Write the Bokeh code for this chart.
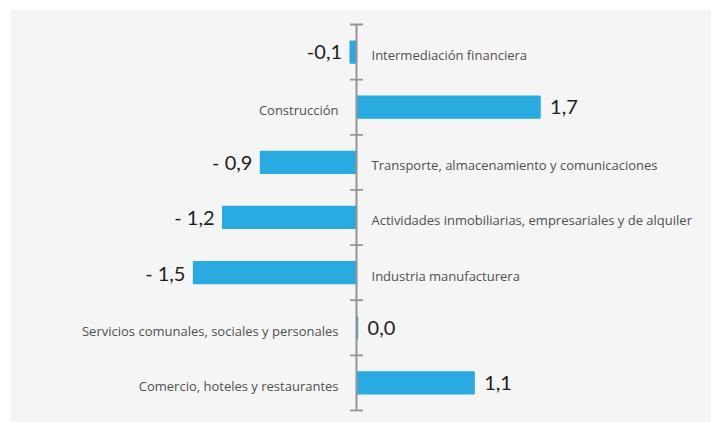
from bokeh.plotting import figure
from bokeh.models import ColumnDataSource, Range1d
from bokeh.core.properties import value
from bokeh.embed import file_html
from bokeh.resources import INLINE

categories = [
    "Intermediación financiera",
    "Construcción",
    "Transporte, almacenamiento y comunicaciones",
    "Actividades inmobiliarias, empresariales y de alquiler",
    "Industria manufacturera",
    "Servicios comunales, sociales y personales",
    "Comercio, hoteles y restaurantes",
]
# bar lengths (labels show the rounded figures)
values = [-0.06, 1.70, -0.89, -1.24, -1.51, 0.01, 1.09]
value_labels = ["-0,1", "1,7", "- 0,9", "- 1,2", "- 1,5", "0,0", "1,1"]

n = len(categories)
pos = [i + 0.5 for i in range(n)]
neg = [v < 0 for v in values]

src = ColumnDataSource(dict(
    y=pos,
    v=values,
    zero=[0.0] * n,
    cat=categories,
    vl=value_labels,
    cat_align=["left" if s else "right" for s in neg],
    cat_off=[15 if s else -18 for s in neg],
    val_align=["right" if s else "left" for s in neg],
    val_off=[-8 if s else 10 for s in neg],
))

bg = "#f5f5f5"
p = figure(width=711, height=422, output_backend="svg", toolbar_location=None,
           x_range=Range1d(-3.204, 3.287), y_range=Range1d(7.218, -0.272),
           min_border_left=10, min_border_top=9, min_border_right=0, min_border_bottom=0,
           background_fill_color=bg, border_fill_color="white",
           outline_line_color=None)
p.axis.visible = False
p.grid.visible = False

p.hbar(y="y", left="zero", right="v", height=0.4, source=src,
       fill_color="#29abe2", line_color="#29abe2", line_width=1.2)

# central axis line and ticks at category boundaries
bounds = list(range(n + 1))
p.segment(x0=[0], y0=[bounds[0]], x1=[0], y1=[bounds[-1]], line_color="#959595", line_width=2)
p.scatter(x=[0] * len(bounds), y=bounds, marker="dash", size=13, line_color="#959595", line_width=1.8)

p.text(x="zero", y="y", text="cat", source=src, x_offset="cat_off", y_offset=3,
       text_align="cat_align", text_baseline="middle", text_font=value("Open Sans"),
       text_font_size="13px", text_color="#505050")
p.text(x="v", y="y", text="vl", source=src, x_offset="val_off",
       text_align="val_align", text_baseline="middle", text_font=value("Lato"),
       text_font_size="20px", text_color="#1e1e1e")

open("out.html", "w").write(file_html(p, INLINE))
